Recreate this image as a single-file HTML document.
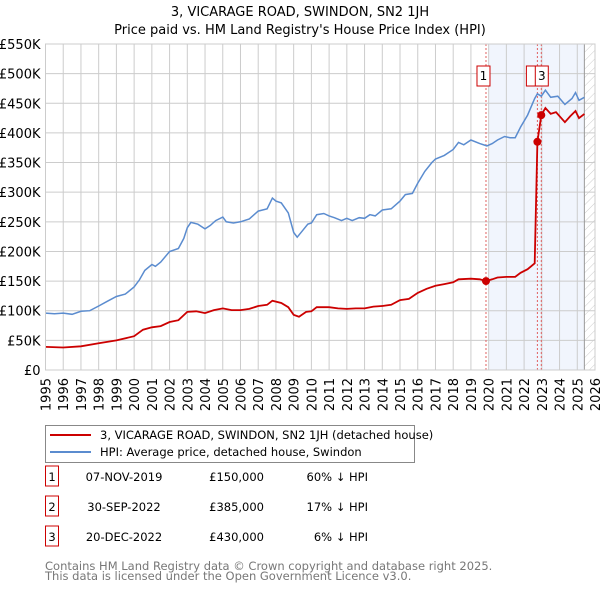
<!DOCTYPE html>
<html><head><meta charset="utf-8"><style>
body{margin:0;background:#fff;font-family:"Liberation Sans","DejaVu Sans",sans-serif;}
svg text{font-family:"DejaVu Sans","Liberation Sans",sans-serif;}
</style></head><body>
<svg id="chart" width="600" height="590" xmlns="http://www.w3.org/2000/svg">
<defs><pattern id="hatch" width="6" height="6" patternUnits="userSpaceOnUse" patternTransform="rotate(45)"><line x1="0" y1="0" x2="0" y2="6" stroke="#ccc" stroke-width="1"/></pattern></defs>
<text x="300" y="16" text-anchor="middle" font-size="13">3, VICARAGE ROAD, SWINDON, SN2 1JH</text>
<text x="300" y="34" text-anchor="middle" font-size="13">Price paid vs. HM Land Registry's House Price Index (HPI)</text>
<g id="plot"></g>
<g>
<rect x="45.5" y="425.5" width="369" height="37" fill="#fff" stroke="#888"/>
<line x1="50" y1="435" x2="91" y2="435" stroke="#cc0000" stroke-width="2"/>
<text x="100" y="439" font-size="11.5">3, VICARAGE ROAD, SWINDON, SN2 1JH (detached house)</text>
<line x1="50" y1="452" x2="91" y2="452" stroke="#5b8ccf" stroke-width="2"/>
<text x="100" y="456" font-size="11.5">HPI: Average price, detached house, Swindon</text>
</g>
<g id="table" font-size="11.5"></g>
<text x="45" y="570" font-size="11.5" fill="#777">Contains HM Land Registry data © Crown copyright and database right 2025.</text>
<text x="45" y="580" font-size="11.5" fill="#777">This data is licensed under the Open Government Licence v3.0.</text>
</svg>
<script>
const yTicks=[0,50,100,150,200,250,300,350,400,450,500,550];
const yTickLabels=["£0","£50K","£100K","£150K","£200K","£250K","£300K","£350K","£400K","£450K","£500K","£550K"];
const xYears=[1995,1996,1997,1998,1999,2000,2001,2002,2003,2004,2005,2006,2007,2008,2009,2010,2011,2012,2013,2014,2015,2016,2017,2018,2019,2020,2021,2022,2023,2024,2025,2026];
const hpiT=[1995,1995.5,1996,1996.5,1997,1997.5,1998,1998.5,1999,1999.5,2000,2000.3,2000.6,2001,2001.2,2001.5,2002,2002.5,2002.8,2003,2003.2,2003.6,2004,2004.3,2004.6,2005,2005.2,2005.6,2006,2006.5,2007,2007.5,2007.8,2008,2008.3,2008.7,2009,2009.2,2009.5,2009.8,2010,2010.3,2010.7,2011,2011.3,2011.7,2012,2012.3,2012.7,2013,2013.3,2013.6,2014,2014.5,2015,2015.3,2015.7,2016,2016.4,2016.8,2017,2017.5,2018,2018.3,2018.6,2019,2019.5,2019.9,2020.2,2020.5,2020.9,2021.2,2021.5,2021.8,2022.2,2022.6,2022.75,2022.97,2023.2,2023.5,2023.9,2024.3,2024.7,2024.9,2025.1,2025.4];
const hpiV=[96,95,96,94,99,100,108,116,124,128,140,152,168,178,175,182,200,205,222,240,249,246,238,244,252,258,250,248,250,255,268,272,290,285,282,265,232,224,235,246,248,262,264,260,257,252,256,252,257,256,262,260,270,272,285,296,298,315,335,350,356,362,372,384,380,388,382,378,382,388,394,392,392,410,430,458,466,462,472,460,462,448,458,468,455,460];
const ppT=[1995,1996,1997,1998,1999,2000,2000.5,2001,2001.5,2002,2002.5,2003,2003.5,2004,2004.5,2005,2005.5,2006,2006.5,2007,2007.5,2007.8,2008.3,2008.7,2009,2009.3,2009.7,2010,2010.3,2011,2011.5,2012,2012.5,2013,2013.5,2014,2014.5,2015,2015.5,2016,2016.5,2017,2017.5,2018,2018.3,2019,2019.5,2019.85,2020.2,2020.5,2021,2021.5,2021.8,2022.2,2022.6,2022.75,2022.97,2023.2,2023.5,2023.8,2024.3,2024.6,2024.9,2025.1,2025.4];
const ppV=[39,38,40,45,50,57,68,72,74,81,84,98,99,96,101,104,101,101,103,108,110,117,113,106,93,90,98,99,106,106,104,103,104,104,107,108,110,118,120,130,137,142,145,148,153,154,153,150,153,156,157,157,164,170,180,385,430,442,432,435,418,428,437,425,432];
const saleIds=["1","2","3"];
const saleT=[2019.85,2022.75,2022.97];
const saleV=[150,385,430];
const saleDates=["07-NOV-2019","30-SEP-2022","20-DEC-2022"];
const salePrices=["£150,000","£385,000","£430,000"];
const saleHpi=["60% ↓ HPI","17% ↓ HPI","6% ↓ HPI"];

const L=45.5,R=595,T=44,B=370;
const X=t=>L+(t-1995)*(R-L)/31;
const Y=v=>B-v*(B-T)/550;
const NS="http://www.w3.org/2000/svg";
const plot=document.getElementById('plot');
function mk(tag,attrs,parent){const e=document.createElementNS(NS,tag);for(const k in attrs)e.setAttribute(k,attrs[k]);(parent||plot).appendChild(e);return e;}
// shaded region
let sh=mk('rect',{x:X(2020),y:T,width:X(2025.4)-X(2020),height:B-T,fill:'#eef3fc',opacity:0.8});


let hz=mk('rect',{x:X(2025.4),y:T,width:R-X(2025.4),height:B-T,fill:'url(#hatch)'});


// grid
yTicks.forEach((v,i)=>{
 let g=mk('line',{x1:L,x2:R,y1:Y(v),y2:Y(v),stroke:'#ccc','stroke-width':1});
 
 
 let t=mk('text',{x:L-5,y:Y(v)+5,'text-anchor':'end','font-size':13});
 t.textContent=yTickLabels[i];
 
 
});
xYears.forEach(yr=>{
 let g=mk('line',{x1:X(yr),x2:X(yr),y1:T,y2:B,stroke:'#ccc','stroke-width':1});
 
 
 let t=mk('text',{x:0,y:0,'text-anchor':'end','font-size':13,transform:`translate(${X(yr)+5},${B+8}) rotate(-90)`});
 t.textContent=yr;
 
 
});
mk('line',{x1:X(2025.4),x2:X(2025.4),y1:T,y2:B,stroke:'#999','stroke-width':1});
// sale vlines
saleT.forEach(t=>{
 let l=mk('line',{x1:X(t),x2:X(t),y1:T,y2:B,stroke:'#e06060','stroke-width':1,'stroke-dasharray':'2,2'});
 
 
});
const path=(ts,vs)=>ts.map((t,i)=>(i?'L':'M')+X(t).toFixed(1)+','+Y(vs[i]).toFixed(1)).join('');
let hp=mk('path',{d:path(hpiT,hpiV),fill:'none',stroke:'#5b8ccf','stroke-width':1.5});


let pp=mk('path',{d:path(ppT,ppV),fill:'none',stroke:'#cc0000','stroke-width':1.8});


saleT.forEach((t,i)=>{
 let c=mk('circle',{cx:X(t),cy:Y(saleV[i]),r:4,fill:'#cc0000'});
 
 
});
// label boxes
[[0,X(saleT[0])-9],[1,X(saleT[1])-11],[2,X(saleT[2])-6]].forEach(([i,x])=>{
 let r=mk('rect',{x:x,y:66,width:13,height:20,fill:'#fff',stroke:'#cc0000'});
 
 
 if(i!==1){let t=mk('text',{x:x+6.5,y:80,'text-anchor':'middle','font-size':12});t.textContent=saleIds[i];
 
 }
});
mk('rect',{x:L,y:T,width:R-L,height:B-T,fill:'none',stroke:'#ccc'});
// table
const tb=document.getElementById('table');
saleIds.forEach((id,i)=>{
 const y=483+i*30;
 let b=mk('rect',{x:45.5,y:y-17,width:13,height:20,fill:'#fff',stroke:'#cc0000'},tb);
 
 
 let t0=mk('text',{x:52,y:y-2,'text-anchor':'middle'},tb);t0.textContent=id;
 
 
 let t1=mk('text',{x:124,y:y-2,'text-anchor':'middle'},tb);t1.textContent=saleDates[i];
 
 
 let t2=mk('text',{x:264,y:y-2,'text-anchor':'end'},tb);t2.textContent=salePrices[i];
 
 
 let t3=mk('text',{x:368,y:y-2,'text-anchor':'end'},tb);t3.textContent=saleHpi[i];
 
 
});
</script>
</body></html>
